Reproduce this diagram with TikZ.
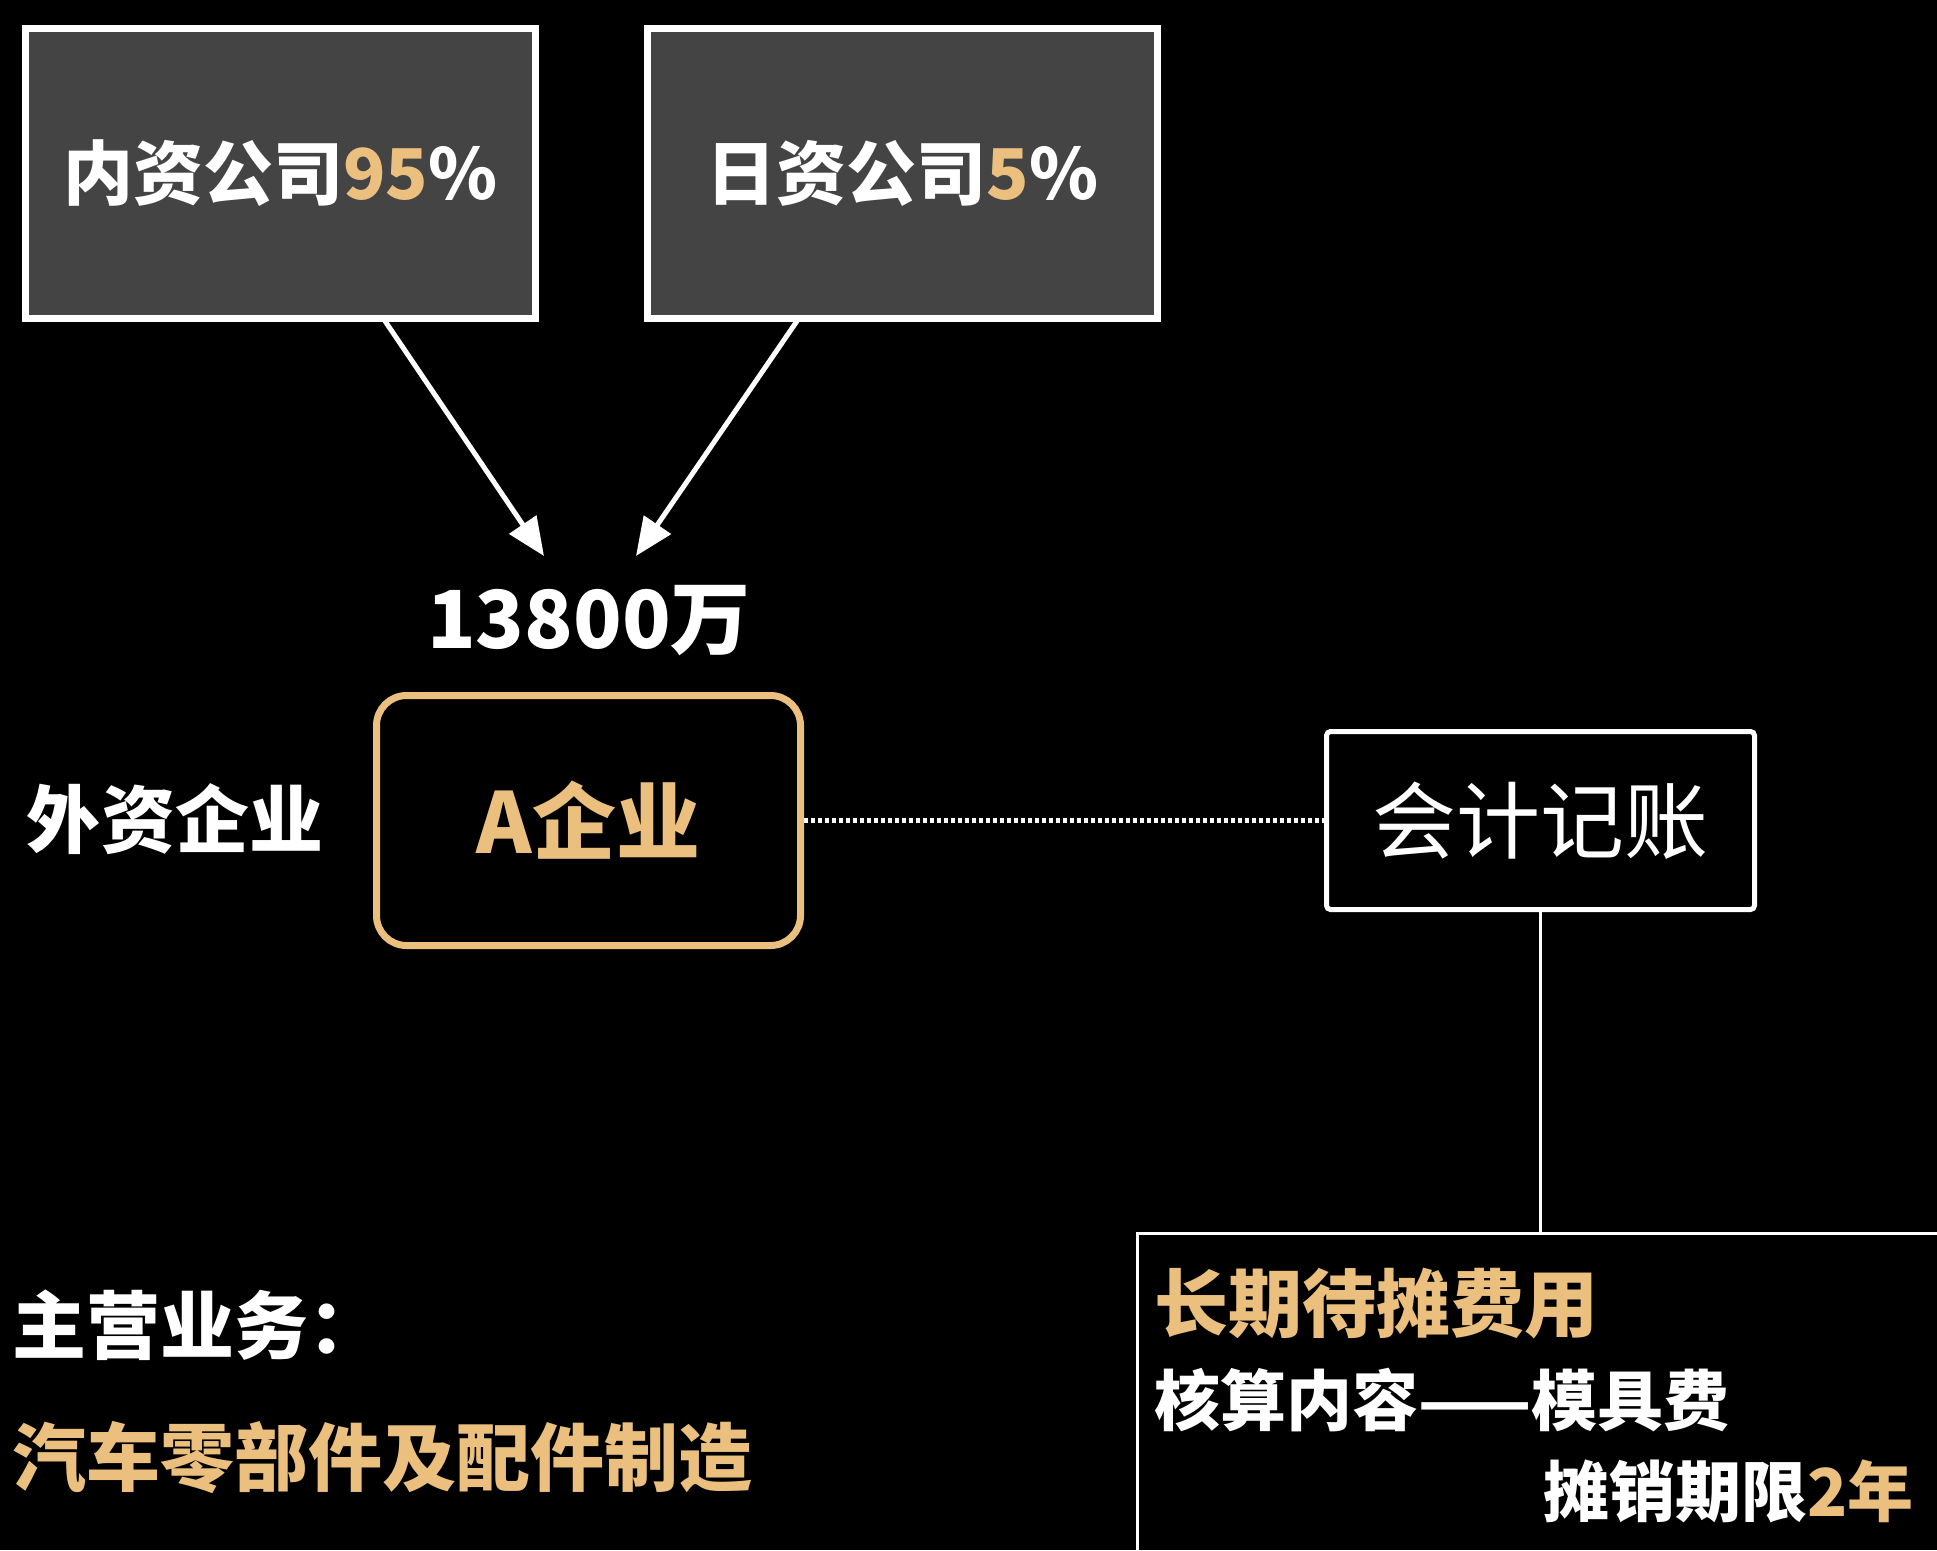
\documentclass[tikz,border=0pt]{standalone}
\usepackage{fontspec}
\setmainfont{Noto Sans CJK SC}[BoldFont={Noto Sans CJK SC Black}]
\usetikzlibrary{arrows.meta}
\definecolor{gold}{HTML}{EBC07E}
\definecolor{boxgrey}{HTML}{444444}
\tikzset{
  fs/.style={font=\fontsize{#1}{#1}\selectfont\bfseries},
  fsr/.style={font=\fontsize{#1}{#1}\selectfont},
  txt/.style={inner sep=0pt, text=white},
  topbox/.style={draw=white, line width=7pt, fill=boxgrey, minimum width=510pt, minimum height=290pt, inner sep=0pt},
  conn/.style={draw=white, line width=5pt, -{Triangle[length=38pt,width=32pt]}},
}
\begin{document}
\begin{tikzpicture}[x=1pt,y=-1pt]
\fill[black] (0,0) rectangle (1937,1550);
\useasboundingbox (0,0) rectangle (1937,1550);

\node[topbox] (b1) at (280.5,173) {};
\node[txt,fs=70] (t1) at (b1.center) {内资公司\textcolor{gold}{95}\%};
\node[topbox] (b2) at (902.5,173) {};
\node[txt,fs=70] (t2) at (b2.center) {日资公司\textcolor{gold}{5}\%};

\coordinate (a1s) at (385,321);
\coordinate (a1e) at (544,556);
\coordinate (a2s) at (797,321);
\coordinate (a2e) at (636,556);
\draw[conn] (a1s) -- (a1e);
\draw[conn] (a2s) -- (a2e);

\node[txt,fs=80] (amt) at (589,621) {13800万};

\node[draw=gold, line width=7pt, rounded corners=30pt, minimum width=424pt, minimum height=250pt] (A) at (588.5,820.5) {};
\node[txt,fs=84,text=gold] (At) at (A.center) {A企业};
\node[txt,fs=74] (wz) at (175,819) {外资企业};

\node[draw=white, line width=5pt, rounded corners=4pt, minimum width=428pt, minimum height=178pt] (acc) at (1540.5,820.5) {};
\node[txt,fsr=84] (acct) at (acc.center) {会计记账};

\draw[white, line width=5pt, dash pattern=on 3.5pt off 3.5pt] (A.east) -- (acc.west);

\node[draw=white, line width=3pt, anchor=north west, minimum width=900pt, minimum height=500pt, inner sep=0pt] (lt) at (1136,1232) {};
\draw[white, line width=3.5pt] (acc.south) -- (acc.south |- lt.north);

\node[txt,fs=74,text=gold,anchor=west] (l1) at (1154,1303) {长期待摊费用};
\node[txt,fs=66,anchor=west] (l2) at (1154,1400) {核算内容——模具费};
\node[txt,fs=66,anchor=east] (l3) at (1914,1491) {摊销期限\textcolor{gold}{2年}};

\node[txt,fs=74,anchor=west] (m1) at (12,1325) {主营业务：};
\node[txt,fs=74,text=gold,anchor=west] (m2) at (12,1458) {汽车零部件及配件制造};
\end{tikzpicture}
\end{document}
